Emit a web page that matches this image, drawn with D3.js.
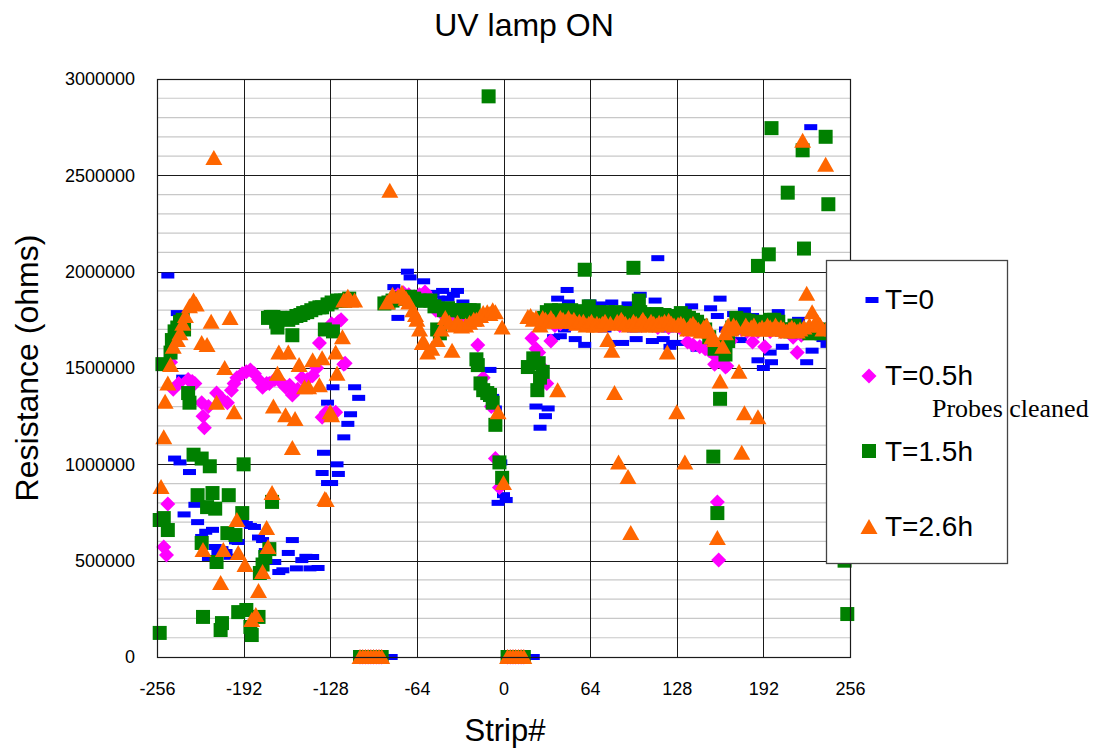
<!DOCTYPE html>
<html><head><meta charset="utf-8">
<script src="https://cdn.jsdelivr.net/npm/d3@7"></script>
<style>body{margin:0;background:#fff}svg{display:block}</style>
</head><body>
<svg id="chart" width="1098" height="750"></svg>
<script>
// ---------- data (strip #, resistance in kOhm) ----------
const xTickValues = [-256,-192,-128,-64,0,64,128,192,256];
const yTickValues = [0,500000,1000000,1500000,2000000,2500000,3000000];
const seriesNames = ["T=0","T=0.5h","T=1.5h","T=2.6h"];
const seriesColors = ["#0000ff","#ff00ff","#008000","#ff6600"];

const T0 = [[-248,1980],[-245,1650],[-243,1030],[-241,1785],[-239,1010],[-237,1450],
[-236,740],[-232,960],[-228,790],[-226,700],[-223,623],[-220,650],[-218,514],[-215,660],[-213,571],[-211,545],
[-208,560],[-205,545],[-202,520],[-198,600],[-196,597],[-193,700],[-190,690],[-187,680],[-184,675],[-181,620],
[-178,607],[-176,550],[-173,545],[-169,493],[-166,441],[-163,450],[-159,540],[-156,607],[-153,460],[-149,503],
[-146,520],[-143,460],[-141,519],[-137,462],[-134,955],[-133,1060],[-130,903],[-130,1320],[-127,903],[-126,1400],
[-123,1000],[-122,950],[-118,1140],[-115,1210],[-113,1260],[-110,1400],[-107,1345],
[-104,0],[-102,0],[-100,0],[-98,0],[-96,0],[-94,0],[-92,0],[-90,0],[-88,0],[-86,0],[-83,0],
[-81,1920],[-78,1760],[-75,1850],[-71,2000],[-69,1970],[-66,1880],[-62,1840],[-59,1950],[-55,1870],[-52,1890],
[-48,1860],[-45,1900],[-41,1860],[-37,1880],[-34,1900],[-30,1840],[-27,1790],[-24,1760],[-20,1560],[-17,1420],
[-14,1380],[-10,1490],[-8,1350],[-6,1290],[-4,800],[-2,1010],[0,840],[2,815],
[4,0],[6,0],[8,0],[10,0],[12,0],[14,0],[16,0],[18,0],[20,0],[22,0],
[24,1300],[27,1190],[31,1250],[33,1290],[37,1660],[40,1860],[42,1665],[45,1700],[47,1905],[48,1840],[51,1780],
[53,1650],[57,1720],[60,1620],[64,1840],[67,1760],[71,1830],[75,1700],[79,1630],[80,1840],[84,1720],[88,1630],
[92,1830],[96,1700],[98,1650],[101,1880],[105,1720],[110,1640],[112,1850],[114,2070],[118,1650],[121,1700],
[123,1610],[125,1630],[129,1630],[132,1700],[136,1720],[139,1820],[143,1600],[147,1680],[153,1810],[158,1770],
[160,1860],[164,1700],[170,1780],[175,1645],[178,1800],[184,1770],[188,1540],[192,1500],[197,1580],[198,1530],
[203,1790],[206,1610],[211,1700],[215,1680],[218,1750],[224,1530],[227,2750],[228,1590],[232,1700],[236,1650],
[239,1620],[243,1700],[246,1680],[250,1720]];

const T05 = [[-251,571],[-249,530],[-248,794],[-246,1530],[-244,1390],[-240,1420],[-233,1440],
[-230,1430],[-228,1420],[-223,1320],[-222,1250],[-221,1190],[-218,1300],[-212,1370],[-208,1340],[-204,1320],
[-201,1385],[-199,1420],[-197,1450],[-193,1470],[-190,1480],[-187,1490],[-184,1470],[-181,1440],[-178,1400],
[-175,1420],[-173,1420],[-169,1440],[-165,1430],[-161,1400],[-158,1410],[-156,1360],[-152,1390],[-149,1450],
[-145,1440],[-141,1460],[-138,1500],[-136,1630],[-134,1245],[-131,1270],[-128,1270],[-127,1730],[-124,1270],
[-122,1740],[-120,1750],[-118,1520],[-117,1525],
[-106,0],[-104,0],[-102,0],[-100,0],[-98,0],[-96,0],[-94,0],[-92,0],[-90,0],
[-82,1860],[-78,1880],[-74,1890],[-70,1880],[-66,1870],[-62,1880],[-58,1895],[-54,1860],[-50,1800],[-45,1780],
[-40,1770],[-35,1760],[-30,1750],[-25,1740],[-19,1620],[-15,1450],[-12,1380],[-9,1300],[-6,1030],[-3,880],
[3,0],[5,0],[7,0],[9,0],[11,0],[13,0],[15,0],
[21,1655],[24,1600],[26,1580],[29,1500],[32,1420],[35,1640],[38,1720],[42,1730],[46,1740],[50,1730],[54,1740],
[58,1730],[62,1740],[66,1730],[70,1720],[74,1730],[78,1740],[82,1730],[86,1720],[90,1730],[94,1720],[98,1730],
[102,1720],[106,1730],[110,1720],[114,1710],[118,1720],[122,1710],[126,1720],[130,1710],[133,1700],
[136,1635],[140,1620],[145,1610],[149,1600],[152,1590],[154,1580],[156,1520],[158,805],[159,503],[160,1560],
[162,1540],[164,1505],[165,1510],[168,1640],[172,1700],[176,1700],[180,1690],[184,1635],[188,1690],[193,1610],
[197,1690],[201,1700],[205,1690],[210,1690],[214,1660],[217,1580],[220,1670],[224,1690],[228,1700],[232,1690],
[236,1700],[240,1690],[245,1690],[250,1700]];

const T15 = [[-254,125],[-254,711],[-252,1520],[-251,721],[-248,659],[-246,1580],[-245,1645],[-243,1690],
[-241,1710],[-239,1740],[-237,1750],[-236,1700],[-233,1370],[-232,1320],[-229,1050],[-226,840],[-223,1030],
[-223,592],[-222,208],[-219,778],[-217,990],[-215,851],[-213,770],[-212,493],[-209,140],[-208,176],[-204,643],
[-203,840],[-198,633],[-196,233],[-193,747],[-192,1000],[-190,244],[-187,156],[-186,114],[-181,208],[-180,436],
[-178,480],[-176,519],[-173,560],[-171,805],[-174,1760],[-172,1765],[-170,1765],[-168,1740],[-167,1710],
[-165,1760],[-162,1760],[-159,1750],[-156,1670],[-156,1760],[-153,1770],[-150,1775],[-148,1785],[-145,1790],
[-142,1800],[-139,1810],[-136,1815],[-134,1815],[-132,1700],[-130,1830],[-127,1840],[-126,1690],[-123,1850],
[-120,1850],[-117,1850],[-114,1860],
[-106,0],[-104,0],[-102,0],[-100,0],[-98,0],[-96,0],[-94,0],[-92,0],[-90,0],
[-88,1835],[-85,1840],[-82,1850],[-79,1860],[-76,1860],[-73,1865],[-69,1870],[-66,1860],[-62,1850],[-58,1850],
[-54,1850],[-51,1820],[-49,1700],[-47,1680],[-44,1800],[-41,1810],[-38,1800],[-34,1800],[-31,1790],[-28,1800],
[-25,1800],[-22,1800],[-20,1545],[-19,1515],[-17,1420],[-15,1385],[-12,1370],[-11,2910],[-10,1360],[-8,1320],
[-6,1205],[-3,1010],[-1,930],
[3,0],[5,0],[7,0],[9,0],[11,0],[13,0],[15,0],
[18,1505],[22,1550],[25,1385],[26,1525],[27,1450],[29,1480],[30,1760],
[32,1790],[35,1800],[38,1790],[41,1800],[44,1795],[47,1790],[50,1800],[53,1790],[56,1790],[59,1795],[60,2010],
[62,1790],[63,1820],[65,1785],[68,1790],[71,1780],[74,1785],[77,1790],[80,1780],[83,1790],[86,1785],[89,1780],
[92,1785],[95,1775],[96,2020],[98,1780],[100,1850],[101,1790],[104,1780],[107,1775],[110,1770],[113,1780],
[116,1770],[119,1775],[122,1765],[125,1770],[128,1765],[131,1785],[134,1770],[137,1760],[140,1750],[143,1740],
[146,1720],[149,1700],[152,1660],[155,1040],[156,1600],[158,747],[160,1340],[162,1620],[164,1570],[166,1640],
[169,1710],[172,1760],[175,1750],[178,1750],[181,1745],[184,1740],[187,1730],[188,2030],[190,1720],[193,1740],
[196,2090],[197,1750],[198,2745],[200,1750],[203,1740],[206,1700],[209,1700],[210,2410],[212,1690],[215,1720],
[218,1700],[221,2630],[222,2120],[224,1690],[226,1680],[229,1700],[232,1690],[235,1680],[238,2700],[240,2350],
[241,1700],[244,1690],[247,1680],[252,500],[254,223]];

const T26 = [[-253,882],[-251,1140],[-250,1325],[-248,1420],[-246,1515],[-244,1610],[-241,1645],[-239,1680],
[-237,1730],[-235,1770],[-232,1820],[-229,1850],[-227,1830],[-223,1630],[-222,555],[-219,1620],[-216,1740],
[-214,2590],[-212,1320],[-209,384],[-207,555],[-206,1500],[-202,1760],[-199,1270],[-197,711],[-196,540],
[-191,477],[-186,192],[-183,218],[-181,342],[-178,441],[-175,669],[-174,571],[-171,851],[-170,1300],[-167,1470],
[-166,1580],[-161,1255],[-159,1580],[-156,1085],[-154,1235],[-151,1515],[-147,1400],[-144,1400],[-141,1540],
[-136,1410],[-134,1550],[-132,820],[-131,815],[-128,1270],[-127,1255],[-124,1580],[-123,1470],[-119,1660],
[-118,1850],[-115,1870],[-113,1850],[-110,1850],
[-106,0],[-104,0],[-102,0],[-100,0],[-98,0],[-96,0],[-94,0],[-92,0],[-90,0],
[-86,1840],[-84,2420],[-82,1880],[-78,1870],[-75,1890],[-72,1860],[-70,1840],[-67,1800],[-65,1775],[-64,1750],
[-62,1700],[-60,1630],[-59,1635],[-56,1580],[-53,1600],[-49,1645],[-46,1700],[-43,1760],[-40,1735],[-38,1590],
[-36,1720],[-34,1735],[-31,1715],[-28,1720],[-25,1735],[-22,1750],[-20,1750],[-17,1770],[-15,1785],[-12,1790],
[-10,1780],[-8,1800],[-6,1790],[-4,1270],[-1,1710],[0,903],
[3,0],[5,0],[7,0],[9,0],[11,0],[13,0],[15,0],
[18,1765],[20,1770],[22,1750],[24,1760],[27,1720],[29,1760],[31,1750],[33,1740],[35,1760],[37,1740],[40,1385],
[42,1760],[44,1750],[46,1740],[48,1760],[50,1740],[52,1750],[54,1730],[56,1740],[59,1740],[61,1720],[63,1730],
[65,1740],[67,1720],[69,1730],[71,1720],[73,1730],[75,1740],[77,1645],[79,1730],[80,1590],[82,1370],[84,1740],
[85,1010],[87,1750],[88,1740],[90,1730],[92,934],[93,1720],[94,643],[96,1740],[98,1730],[100,1720],[102,1740],
[103,1750],[105,1730],[107,1720],[109,1740],[111,1730],[113,1720],[115,1735],[117,1730],[119,1740],[121,1580],
[122,1745],[124,1730],[126,1720],[128,1270],[129,1725],[131,1730],[133,1720],[134,1010],[136,1700],[138,1720],
[140,1730],[142,1710],[144,1700],[146,1690],[148,1710],[150,1720],[152,1690],[154,1660],[156,1645],[158,617],
[160,1430],[162,1610],[164,1680],[166,1720],[168,1700],[170,1720],[172,1710],[174,1480],[176,1060],[178,1265],
[179,1720],[181,1700],[183,1710],[185,1720],[188,1245],[189,1700],[191,1710],[193,1700],[195,1720],[197,1710],
[199,1700],[201,1720],[203,1700],[205,1710],[207,1700],[209,1690],[211,1700],[213,1710],[215,1700],[217,1690],
[219,1700],[221,2680],[222,1710],[224,1885],[226,1720],[228,1790],[230,1730],[232,1740],[234,1720],[236,1700],
[238,2555],[240,1720],[243,1700],[246,1710],[250,1700]];

const allSeries = [T0, T05, T15, T26];

// ---------- chart ----------
const svg = d3.select("#chart");
const m = {left:157, right:850, top:79, bottom:657};
const x = d3.scaleLinear().domain([-256,256]).range([m.left, m.right]);
const y = d3.scaleLinear().domain([0,3000000]).range([m.bottom, m.top]);
const font = "'Liberation Sans', Arial, sans-serif";

// minor horizontal grid
const minor = d3.range(100000, 3000000, 100000).filter(v => v % 500000 !== 0);
svg.append("g").selectAll("line").data(minor).join("line")
  .attr("x1", m.left).attr("x2", m.right)
  .attr("y1", d => y(d)).attr("y2", d => y(d))
  .attr("stroke", "#c8c8c8").attr("stroke-width", 1.2);

// major grid
svg.append("g").selectAll("line").data(yTickValues).join("line")
  .attr("x1", m.left).attr("x2", m.right)
  .attr("y1", d => Math.round(y(d)) + 0.5).attr("y2", d => Math.round(y(d)) + 0.5)
  .attr("stroke", "#1a1a1a").attr("stroke-width", 1);
svg.append("g").selectAll("line").data(xTickValues).join("line")
  .attr("y1", m.top).attr("y2", m.bottom)
  .attr("x1", d => Math.round(x(d)) + 0.5).attr("x2", d => Math.round(x(d)) + 0.5)
  .attr("stroke", "#1a1a1a").attr("stroke-width", 1);

// axes labels (hyphen-minus as in the original)
const fmt = d => String(d);
const yAxis = d3.axisLeft(y).tickValues(yTickValues).tickFormat(fmt).tickSize(0).tickPadding(22);
const gy = svg.append("g").attr("transform", `translate(${m.left},0)`).call(yAxis);
gy.select(".domain").remove();
gy.selectAll("text").attr("font-family", font).attr("font-size", 18).attr("fill", "#000");

const xAxis = d3.axisBottom(x).tickValues(xTickValues).tickFormat(fmt).tickSize(0).tickPadding(25);
const gx = svg.append("g").attr("transform", `translate(0,${m.bottom})`).call(xAxis);
gx.select(".domain").remove();
gx.selectAll("text").attr("font-family", font).attr("font-size", 18).attr("fill", "#000");

// marker shapes
const shapes = [
  g => g.append("rect").attr("x", -6.5).attr("y", -3).attr("width", 13).attr("height", 6),
  g => g.append("path").attr("d", "M0,-7.5L7.5,0L0,7.5L-7.5,0Z"),
  g => g.append("rect").attr("x", -7).attr("y", -7).attr("width", 14).attr("height", 14),
  g => g.append("path").attr("d", "M0,-8L8.5,7L-8.5,7Z")
];

allSeries.forEach((data, i) => {
  const g = svg.append("g").attr("fill", seriesColors[i]);
  g.selectAll("g").data(data).join("g")
    .attr("transform", d => `translate(${x(d[0])},${y(d[1] * 1000)})`)
    .each(function() { shapes[i](d3.select(this)); });
});

// plot frame
svg.append("rect").attr("x", m.left + 0.5).attr("y", m.top + 0.5)
  .attr("width", m.right - m.left).attr("height", m.bottom - m.top)
  .attr("fill", "none").attr("stroke", "#1a1a1a").attr("stroke-width", 1.2);

// titles
svg.append("text").attr("x", 524).attr("y", 36).attr("text-anchor", "middle")
  .attr("font-family", font).attr("font-size", 32).text("UV lamp ON");
svg.append("text").attr("x", 505).attr("y", 741).attr("text-anchor", "middle")
  .attr("font-family", font).attr("font-size", 31).text("Strip#");
svg.append("text").attr("transform", "translate(38,368) rotate(-90)").attr("text-anchor", "middle")
  .attr("font-family", font).attr("font-size", 32).text("Resistance (ohms)");

// legend
const lg = svg.append("g");
lg.append("rect").attr("x", 826.5).attr("y", 260.5).attr("width", 181).attr("height", 303)
  .attr("fill", "#fff").attr("stroke", "#444").attr("stroke-width", 1.3);
const legY = [300, 376, 451, 527];
const legBase = [309, 385, 461, 536];
seriesNames.forEach((name, i) => {
  const mk = lg.append("g").attr("fill", seriesColors[i]).attr("transform", `translate(${i === 0 ? 872 : 869},${legY[i]})`);
  shapes[i](mk);
  lg.append("text").attr("x", 885).attr("y", legBase[i]).attr("font-family", font)
    .attr("font-size", 28).text(name);
});
svg.append("text").attr("x", 932).attr("y", 417).attr("font-family", "'Liberation Serif', 'Times New Roman', serif")
  .attr("font-size", 26).text("Probes cleaned");
</script>
</body></html>
